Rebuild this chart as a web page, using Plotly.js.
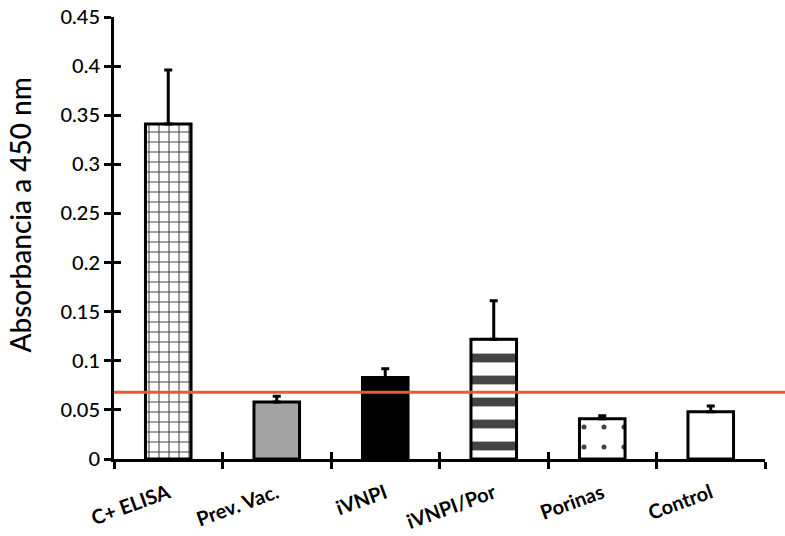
<!DOCTYPE html>
<html>
<head>
<meta charset="utf-8">
<script src="https://cdn.plot.ly/plotly-3.0.1.min.js"></script>
<style>
  html, body { margin: 0; padding: 0; background: #ffffff; }
  #chart { width: 785px; height: 536px; }
</style>
</head>
<body>
<div id="chart"></div>
<script>
// Absorbance at 450 nm for each group, with the upper standard deviation
const groups = ["C+ ELISA", "Prev. Vac.", "iVNPI", "iVNPI/Por", "Porinas", "Control"];
const absorbance = [0.341, 0.058, 0.083, 0.122, 0.041, 0.048];
const sdUpper = [0.055, 0.006, 0.009, 0.039, 0.003, 0.006];
const cutoff = 0.068;
const yTicks = [0, 0.05, 0.1, 0.15, 0.2, 0.25, 0.3, 0.35, 0.4, 0.45];
const yTickText = ["0", "0.05", "0.1", "0.15", "0.2", "0.25", "0.3", "0.35", "0.4", "0.45"];
const yTitle = "Absorbancia a 450 nm";

// Per-bar fill styles
const fillColors = ["#ffffff", "#a3a3a3", "#000000", "#ffffff", "#ffffff", "#ffffff"];
const patternShapes = ["+", "", "", "-", ".", ""];
const patternSizes = [10, 8, 8, 22, 20, 8];
const patternSolidity = [0.2, 0.3, 0.3, 0.4, 0.05, 0.3];

const bars = {
  type: "bar",
  x: groups,
  y: absorbance,
  width: 0.42,
  marker: {
    color: fillColors,
    line: { color: "#000000", width: 3 },
    pattern: {
      shape: patternShapes,
      size: patternSizes,
      solidity: patternSolidity,
      fgcolor: "#000000",
      fgopacity: 1,
      bgcolor: fillColors,
      fillmode: "overlay"
    }
  },
  error_y: {
    type: "data",
    symmetric: false,
    array: sdUpper,
    arrayminus: absorbance.map(() => 0),
    color: "#000000",
    thickness: 3,
    width: 4
  },
  hoverinfo: "x+y",
  showlegend: false
};

// Invisible copy on the overlay axes so the inner half of each tick mark is drawn
const tickOverlay = {
  type: "scatter",
  mode: "markers",
  x: groups,
  y: absorbance,
  xaxis: "x2",
  yaxis: "y2",
  marker: { opacity: 0 },
  hoverinfo: "skip",
  showlegend: false
};

const font = "Lato, 'Open Sans', sans-serif";

const layout = {
  width: 785,
  height: 536,
  margin: { l: 114, r: 20, t: 17, b: 77 },
  paper_bgcolor: "#ffffff",
  plot_bgcolor: "#ffffff",
  showlegend: false,
  font: { family: font, color: "#000000" },
  xaxis: {
    type: "category",
    range: [-0.5, 5.5],
    tickson: "boundaries",
    ticks: "outside",
    ticklen: 7,
    tickwidth: 3,
    tickcolor: "#000000",
    showline: true,
    linecolor: "#000000",
    linewidth: 3,
    showgrid: false,
    zeroline: false,
    tickangle: -20,
    ticklabelstandoff: 12,
    tickfont: { family: font, size: 20, color: "#000000", weight: "bold" }
  },
  yaxis: {
    range: [0, 0.45],
    tickvals: yTicks,
    ticktext: yTickText,
    ticks: "outside",
    ticklen: 7,
    tickwidth: 3,
    tickcolor: "#000000",
    showline: true,
    linecolor: "#000000",
    linewidth: 3,
    showgrid: false,
    zeroline: false,
    tickfont: { family: font, size: 20, color: "#000000", weight: 500 }
  },
  xaxis2: {
    type: "category",
    overlaying: "x",
    anchor: "y2",
    side: "bottom",
    range: [-0.5, 5.5],
    tickson: "boundaries",
    ticks: "inside",
    ticklen: 7,
    tickwidth: 3,
    tickcolor: "#000000",
    showticklabels: false,
    showline: false,
    showgrid: false,
    zeroline: false
  },
  yaxis2: {
    overlaying: "y",
    anchor: "x2",
    side: "left",
    range: [0, 0.45],
    tickvals: yTicks,
    ticks: "inside",
    ticklen: 7,
    tickwidth: 3,
    tickcolor: "#000000",
    showticklabels: false,
    showline: false,
    showgrid: false,
    zeroline: false
  },
  // Y-axis title, set slightly above the middle of the axis
  annotations: [
    {
      text: yTitle,
      textangle: -90,
      xref: "paper",
      yref: "paper",
      x: -0.145,
      y: 0.552,
      xanchor: "center",
      yanchor: "middle",
      showarrow: false,
      font: { family: font, size: 28, color: "#000000", weight: 500 }
    }
  ],
  shapes: [
    {
      type: "line",
      xref: "paper",
      yref: "y",
      x0: 0,
      x1: 1.035,
      y0: cutoff,
      y1: cutoff,
      line: { color: "#e65a3e", width: 3 },
      layer: "above"
    }
  ]
};

Plotly.newPlot("chart", [bars, tickOverlay], layout, { displayModeBar: false, staticPlot: true });
</script>
</body>
</html>
